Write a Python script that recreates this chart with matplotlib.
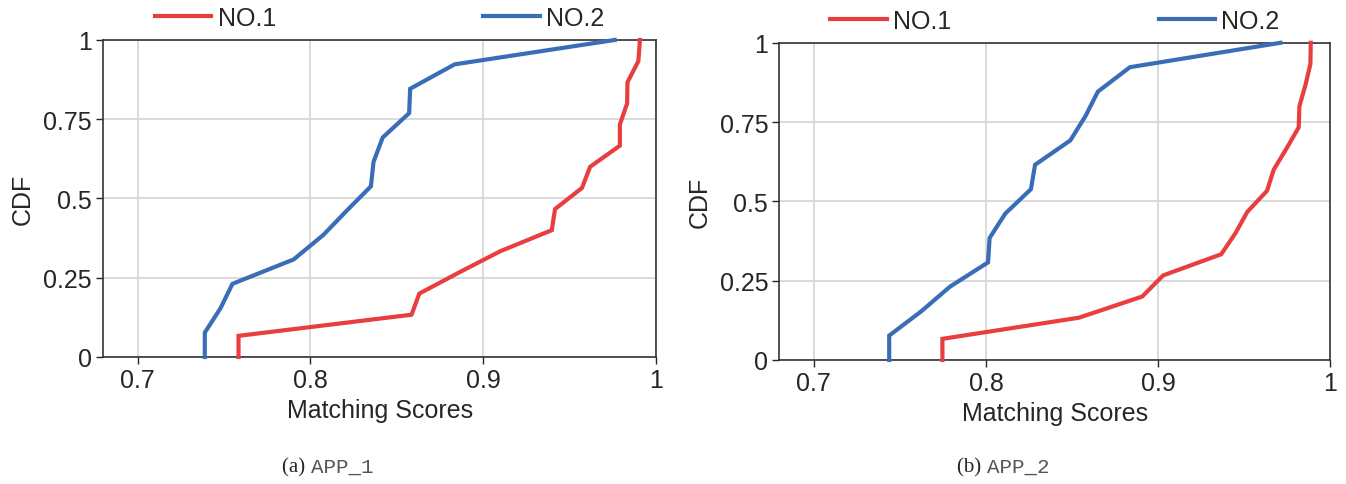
import matplotlib
matplotlib.use("Agg")
import matplotlib.pyplot as plt
import numpy as np

# ── palette ──────────────────────────────────────────────────────────────────
RED   = "#E83E3F"
BLUE  = "#3A6DB7"
TEXT  = "#262626"
GRIDC = "#D4D4D4"

plt.rcParams["font.family"] = ["Liberation Sans", "DejaVu Sans"]

# ── data ─────────────────────────────────────────────────────────────────────
# APP_1
a_no1_x = [0.7584, 0.7584, 0.8585, 0.8630, 0.8860, 0.9097, 0.9396, 0.9415,
           0.9571, 0.9618, 0.9790, 0.9790, 0.9832, 0.9834, 0.9897, 0.9906]
a_no1_y = [0, 1/15, 2/15, 3/15, 4/15, 5/15, 6/15, 7/15,
           8/15, 9/15, 10/15, 11/15, 12/15, 13/15, 14/15, 1]
a_no2_x = [0.7389, 0.7389, 0.7480, 0.7549, 0.7903, 0.8074, 0.8210,
           0.8350, 0.8365, 0.8418, 0.8571, 0.8577, 0.8834, 0.9760]
a_no2_y = [0, 1/13, 2/13, 3/13, 4/13, 5/13, 6/13,
           7/13, 8/13, 9/13, 10/13, 11/13, 12/13, 1]

# APP_2
b_no1_x = [0.7747, 0.7747, 0.8540, 0.8907, 0.9029, 0.9366, 0.9449, 0.9517,
           0.9632, 0.9671, 0.9745, 0.9816, 0.9820, 0.9855, 0.9884, 0.9886]
b_no1_y = a_no1_y
b_no2_x = [0.7438, 0.7438, 0.7625, 0.7790, 0.8012, 0.8021, 0.8112,
           0.8261, 0.8285, 0.8490, 0.8578, 0.8650, 0.8836, 0.9710]
b_no2_y = a_no2_y

XTICKS = [0.7, 0.8, 0.9, 1.0]
XLABELS = ["0.7", "0.8", "0.9", "1"]
YTICKS = [0, 0.25, 0.5, 0.75, 1.0]
YLABELS = ["0", "0.25", "0.5", "0.75", "1"]

PANELS = [
    ("(a)", "APP_1", a_no1_x, a_no1_y, a_no2_x, a_no2_y),
    ("(b)", "APP_2", b_no1_x, b_no1_y, b_no2_x, b_no2_y),
]

# ── figure layout ────────────────────────────────────────────────────────────
fig = plt.figure(figsize=(13.46, 4.85), dpi=100)
fig.patch.set_facecolor("white")
rects = [[0.0765, 0.2619, 0.4110, 0.6536],
         [0.5790, 0.2557, 0.4094, 0.6540]]
caption_x = [0.2437, 0.7460]

for rect, cx, (tag, name, x1, y1, x2, y2) in zip(rects, caption_x, PANELS):
    ax = fig.add_axes(rect)
    ax.plot(x1, y1, color=RED, lw=3, label="NO.1", solid_joinstyle="miter",
            zorder=3, clip_on=False)
    ax.plot(x2, y2, color=BLUE, lw=3, label="NO.2", solid_joinstyle="miter",
            zorder=3, clip_on=False)

    ax.set_xlim(0.68, 1.0)
    ax.set_ylim(0, 1)
    ax.set_xticks(XTICKS)
    ax.set_xticklabels(XLABELS)
    ax.set_yticks(YTICKS)
    ax.set_yticklabels(YLABELS)
    ax.grid(True, color=GRIDC, lw=1.2)
    ax.set_axisbelow(True)
    ax.tick_params(labelsize=18, colors=TEXT, length=5, width=1, pad=3)
    for sp in ax.spines.values():
        sp.set_color("#333333")
        sp.set_linewidth(1.2)

    ax.set_xlabel("Matching Scores", fontsize=18, color=TEXT, labelpad=4)
    ax.set_ylabel("CDF", fontsize=18, color=TEXT, labelpad=6)

    ax.legend(loc="lower center", bbox_to_anchor=(0.5, 1.0), ncol=2,
              frameon=False, fontsize=18, handlelength=2.25,
              handletextpad=0.25, columnspacing=8.3, borderaxespad=0.0,
              labelcolor=TEXT)

    # caption: serif tag + monospace app name
    fig.text(cx - 0.013, 0.025, tag + " ", ha="right", va="baseline",
             fontsize=15, family=["Liberation Serif", "DejaVu Serif"],
             color=TEXT)
    fig.text(cx - 0.013, 0.025, name, ha="left", va="baseline",
             fontsize=15, family=["Liberation Mono", "DejaVu Sans Mono"],
             color="#555555")

fig.savefig("out.png", dpi=100, facecolor="white")
